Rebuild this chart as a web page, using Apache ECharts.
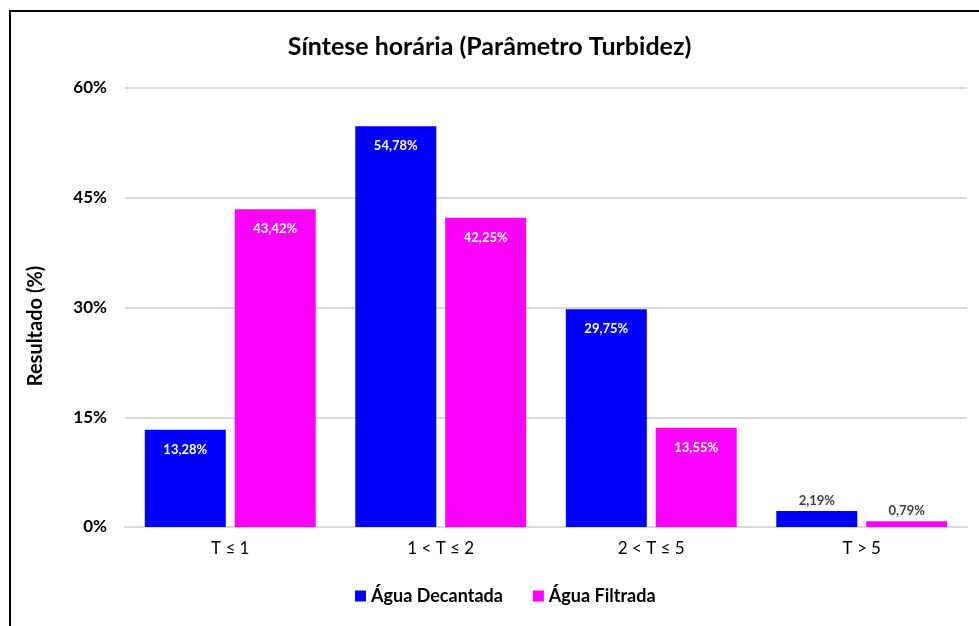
<!DOCTYPE html>
<html>
<head>
<meta charset="utf-8">
<script src="https://cdn.jsdelivr.net/npm/echarts@6/dist/echarts.min.js"></script>
<style>
  html, body { margin: 0; padding: 0; background: #fff; }
  #chart { width: 979px; height: 626px; }
</style>
</head>
<body>
<div id="chart"></div>
<script>
const categories = ['T ≤ 1', '1 < T ≤ 2', '2 < T ≤ 5', 'T > 5']
const decantada = [13.28, 54.78, 29.75, 2.19]
const filtrada = [43.42, 42.25, 13.55, 0.79]
const yTicks = [0, 15, 30, 45, 60]

const FONT = 'Lato, "Noto Sans", sans-serif'
const fmt = (v) => v.toFixed(2).replace('.', ',') + '%'

// small bars get their label above, the rest inside
const mkData = (arr) => arr.map(v => ({
    value: v,
    label: v < 5
        ? { position: 'top', color: '#404040', distance: 4 }
        : { position: 'insideTop', color: '#fff', distance: 13 }
}))

const chart = echarts.init(document.getElementById('chart'))
chart.setOption({
    animation: false,
    textStyle: { fontFamily: FONT },
    title: {
        text: 'Síntese horária (Parâmetro Turbidez)',
        left: 'center',
        top: 29,
        textStyle: { fontSize: 25, fontWeight: 'bold', color: '#000', fontFamily: FONT }
    },
    graphic: [
        {
            type: 'polyline',
            shape: { points: [[10, 640], [10, 11], [990, 11]] },
            style: { stroke: '#000', lineWidth: 2, fill: null }
        },
        {
            type: 'text',
            x: 36,
            y: 326,
            rotation: Math.PI / 2,
            style: {
                text: 'Resultado (%)',
                fontSize: 20,
                fontWeight: 'bold',
                fontFamily: FONT,
                fill: '#000',
                align: 'center',
                verticalAlign: 'middle'
            }
        }
    ],
    legend: {
        bottom: 16,
        left: 350,
        itemWidth: 11,
        itemHeight: 11,
        itemGap: 30,
        icon: 'rect',
        textStyle: { fontSize: 18, fontWeight: 'bold', color: '#000', fontFamily: FONT }
    },
    grid: { left: 125, right: 12, top: 88, bottom: 99 },
    xAxis: {
        type: 'category',
        data: categories,
        axisTick: { show: false },
        axisLine: { lineStyle: { color: '#d9d9d9', width: 2 } },
        axisLabel: { fontSize: 17, color: '#000', margin: 13, fontFamily: FONT }
    },
    yAxis: {
        type: 'value',
        min: yTicks[0],
        max: yTicks[yTicks.length - 1],
        interval: 15,
        axisLabel: { formatter: '{value}%', fontSize: 17, fontWeight: 'bold', color: '#000', margin: 18, fontFamily: FONT },
        splitLine: { lineStyle: { color: '#d9d9d9', width: 2 } }
    },
    series: [
        {
            name: 'Água Decantada',
            type: 'bar',
            data: mkData(decantada),
            barWidth: 81,
            barGap: '11%',
            itemStyle: { color: '#0000ff' },
            label: { show: true, fontSize: 13, fontWeight: 'bold', formatter: p => fmt(p.value), fontFamily: FONT }
        },
        {
            name: 'Água Filtrada',
            type: 'bar',
            data: mkData(filtrada),
            barWidth: 81,
            barGap: '11%',
            itemStyle: { color: '#ff00ff' },
            label: { show: true, fontSize: 13, fontWeight: 'bold', formatter: p => fmt(p.value), fontFamily: FONT }
        }
    ]
})
</script>
</body>
</html>
